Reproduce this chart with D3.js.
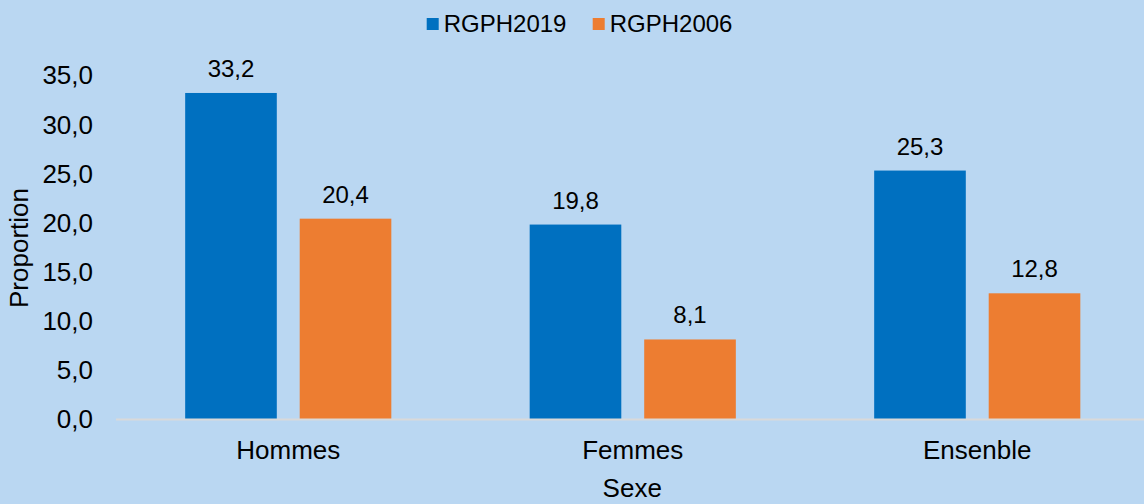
<!DOCTYPE html>
<html>
<head>
<meta charset="utf-8">
<script src="https://cdn.jsdelivr.net/npm/d3@7"></script>
<style>
  body { margin: 0; background: #BAD7F2; }
  svg { display: block; }
  text { font-family: "Liberation Sans", Arial, sans-serif; fill: #000; }
</style>
</head>
<body>
<div id="chart"></div>
<script>
(function () {
    var width = 1144,
        height = 504;

    // data
    var categories = ["Hommes", "Femmes", "Ensenble"];
    var series = ["RGPH2019", "RGPH2006"];
    var rgph2019 = [33.2, 19.8, 25.3];
    var rgph2006 = [20.4, 8.1, 12.8];
    var yTicks = [0, 5, 10, 15, 20, 25, 30, 35];

    var colors = { "RGPH2019": "#0070C0", "RGPH2006": "#ED7D31" };
    var values = { "RGPH2019": rgph2019, "RGPH2006": rgph2006 };

    var fmt = function (v) { return v.toFixed(1).replace(".", ","); };

    var svg = d3.select("#chart")
        .append("svg")
        .attr("width", width)
        .attr("height", height);

    var x0 = d3.scaleBand().domain(categories).range([116, 1149.5]);
    var x1 = d3.scaleBand().domain(series)
        .range([0, x0.bandwidth()])
        .paddingInner(0.2)
        .paddingOuter(0.604);
    var y = d3.scaleLinear().domain([0, 35]).range([419, 75.3]);

    // y tick labels
    svg.append("g")
        .selectAll("text")
        .data(yTicks)
        .enter().append("text")
        .attr("x", 93)
        .attr("y", d => y(d))
        .attr("dy", "0.35em")
        .attr("text-anchor", "end")
        .style("font-size", "26px")
        .text(fmt);

    // bars
    var groups = svg.selectAll(".cat")
        .data(categories)
        .enter().append("g")
        .attr("class", "cat")
        .attr("transform", d => "translate(" + x0(d) + ",0)");

    groups.selectAll("rect")
        .data((d, i) => series.map(s => ({ s: s, v: values[s][i] })))
        .enter().append("rect")
        .attr("x", d => x1(d.s))
        .attr("width", x1.bandwidth())
        .attr("y", d => y(d.v))
        .attr("height", d => y(0) - y(d.v))
        .attr("fill", d => colors[d.s]);

    groups.selectAll(".lbl")
        .data((d, i) => series.map(s => ({ s: s, v: values[s][i] })))
        .enter().append("text")
        .attr("class", "lbl")
        .attr("x", d => x1(d.s) + x1.bandwidth() / 2)
        .attr("y", d => y(d.v) - 16)
        .attr("text-anchor", "middle")
        .style("font-size", "24px")
        .text(d => fmt(d.v));

    // baseline
    svg.append("line")
        .attr("x1", 116)
        .attr("x2", width)
        .attr("y1", y(0) + 0.5)
        .attr("y2", y(0) + 0.5)
        .attr("stroke", "#D9D9D9")
        .attr("stroke-width", 2);

    // category labels
    svg.append("g")
        .selectAll("text")
        .data(categories)
        .enter().append("text")
        .attr("x", d => x0(d) + x0.bandwidth() / 2)
        .attr("y", 459)
        .attr("text-anchor", "middle")
        .style("font-size", "26px")
        .text(d => d);

    // axis titles
    svg.append("text")
        .attr("x", x0.range()[0] + (x0.range()[1] - x0.range()[0]) / 2 - 0.5)
        .attr("y", 497)
        .attr("text-anchor", "middle")
        .style("font-size", "26px")
        .text("Sexe");

    svg.append("text")
        .attr("transform", "translate(28,248) rotate(-90)")
        .attr("text-anchor", "middle")
        .style("font-size", "26px")
        .text("Proportion");

    // legend
    var legendX = [426.7, 592.7];
    var legend = svg.selectAll(".legend")
        .data(series)
        .enter().append("g")
        .attr("class", "legend")
        .attr("transform", (d, i) => "translate(" + legendX[i] + ",0)");

    legend.append("rect")
        .attr("y", 18)
        .attr("width", 12)
        .attr("height", 12)
        .attr("fill", d => colors[d]);

    legend.append("text")
        .attr("x", 17)
        .attr("y", 32)
        .style("font-size", "24px")
        .text(d => d);
})();
</script>
</body>
</html>
